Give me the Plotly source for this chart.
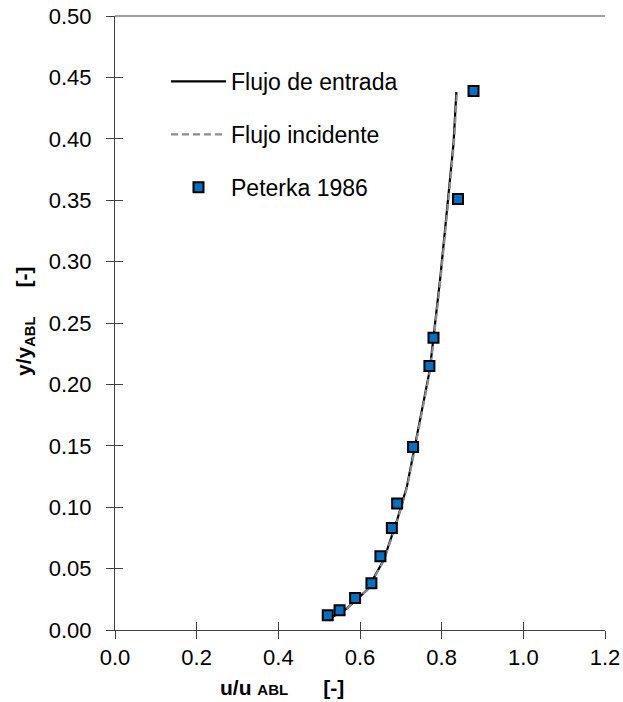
import plotly.graph_objects as go

# Peterka 1986 measured points
pet_u = [0.521, 0.550, 0.588, 0.628, 0.650, 0.678, 0.691, 0.730, 0.770, 0.780, 0.840, 0.878]
pet_y = [0.012, 0.016, 0.026, 0.038, 0.060, 0.083, 0.103, 0.149, 0.215, 0.238, 0.351, 0.439]

# Inlet profile
ent_u = [0.520, 0.527, 0.568, 0.617, 0.658, 0.691, 0.715, 0.744, 0.771, 0.797, 0.813, 0.829, 0.836]
ent_y = [0.008, 0.0095, 0.0177, 0.0326, 0.057, 0.0896, 0.117, 0.166, 0.212, 0.288, 0.342, 0.396, 0.438]

# Incident profile
inc_u = [0.521, 0.528, 0.569, 0.618, 0.659, 0.692, 0.716, 0.745, 0.772, 0.798, 0.814, 0.830, 0.837]
inc_y = [0.008, 0.0095, 0.0177, 0.0326, 0.057, 0.0896, 0.117, 0.166, 0.212, 0.288, 0.342, 0.396, 0.436]

x_ticks = [0.0, 0.2, 0.4, 0.6, 0.8, 1.0, 1.2]
y_ticks = [0.00, 0.05, 0.10, 0.15, 0.20, 0.25, 0.30, 0.35, 0.40, 0.45, 0.50]

FONT = "Liberation Sans, Arial, sans-serif"
AX = "#404040"

W, H = 623, 702
ML, MR, MT, MB = 115, 18, 16, 72

fig = go.Figure()
fig.add_trace(go.Scatter(x=ent_u, y=ent_y, mode="lines", name="Flujo de entrada",
                         line=dict(color="black", width=2.2), legendgroup="a"))
fig.add_trace(go.Scatter(x=inc_u, y=inc_y, mode="lines", name="Flujo incidente",
                         line=dict(color="#8c8c8c", width=2.2, dash="7px,4px"), legendgroup="b"))
fig.add_trace(go.Scatter(x=pet_u, y=pet_y, mode="markers", name="Peterka 1986",
                         marker=dict(symbol="square", size=10, color="#0070C0",
                                     line=dict(color="black", width=2)), legendgroup="c"))
# dummy trace to show the inner half of the crossing ticks
fig.add_trace(go.Scatter(x=[], y=[], xaxis="x2", yaxis="y2", showlegend=False, hoverinfo="skip"))

common = dict(showgrid=False, zeroline=False, linecolor=AX, linewidth=1, tickcolor=AX,
              tickwidth=1, ticklen=8, automargin=False)
pw = W - ML - MR
ph = H - MT - MB

fig.update_layout(
    width=W, height=H, autosize=False,
    margin=dict(l=ML, r=MR, t=MT, b=MB, autoexpand=False),
    paper_bgcolor="white", plot_bgcolor="white",
    font=dict(family=FONT, size=22, color="black"),
    xaxis=dict(range=[0, 1.2], tickvals=x_ticks, tickformat=".1f", ticks="outside",
               showline=True, **common),
    yaxis=dict(range=[0, 0.5], tickvals=y_ticks, tickformat=".2f", ticks="outside",
               showline=True, ticklabelstandoff=10, **common),
    xaxis2=dict(range=[0, 1.2], tickvals=x_ticks, ticks="inside", showticklabels=False,
                overlaying="x", showline=False, **common),
    yaxis2=dict(range=[0, 0.5], tickvals=y_ticks, ticks="inside", showticklabels=False,
                overlaying="y", showline=False, **common),
    legend=dict(x=(166 - ML) / pw, y=1 - (60 - MT) / ph, xanchor="left", yanchor="top",
                bgcolor="rgba(0,0,0,0)", font=dict(size=23), tracegroupgap=20, itemwidth=55),
    showlegend=True,
    shapes=[dict(type="line", xref="paper", yref="paper", x0=0, x1=1, y0=1, y1=1,
                 line=dict(color=AX, width=1))],
    annotations=[
        dict(text="<b>u/u <span style='font-size:15px'>ABL</span>      [-]</b>",
             x=(282 - ML) / pw, y=(H - MB - 687) / ph, xanchor="center", yanchor="middle",
             xref="paper", yref="paper", showarrow=False, font=dict(size=21)),
        dict(text="<b>y/y<sub>ABL</sub>     [-]</b>", x=(25 - ML) / pw, y=(H - MB - 321) / ph,
             xanchor="center", yanchor="middle",
             xref="paper", yref="paper", showarrow=False, textangle=-90, font=dict(size=21)),
    ],
)

post = (
    "document.documentElement.style.margin='0';"
    "document.body.style.margin='0';document.body.style.padding='0';"
    "document.body.style.overflow='hidden';"
)
fig.write_html("out.html", post_script=post, config={"displayModeBar": False})
